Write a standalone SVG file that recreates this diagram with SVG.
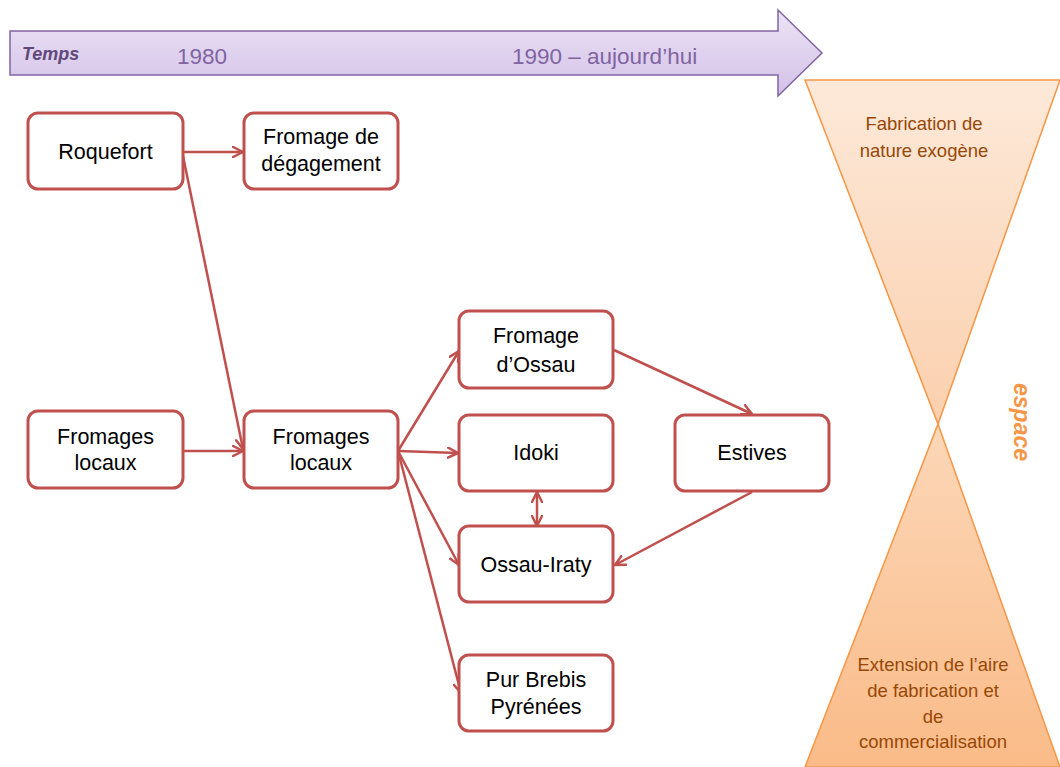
<svg xmlns="http://www.w3.org/2000/svg" width="1060" height="767" viewBox="0 0 1060 767">
<defs>
<linearGradient id="gTime" x1="0" y1="0" x2="0" y2="1">
<stop offset="0" stop-color="#ece3f5"/>
<stop offset="1" stop-color="#d3c1e7"/>
</linearGradient>
<linearGradient id="gTop" x1="0" y1="0" x2="0" y2="1">
<stop offset="0" stop-color="#fde9d9"/>
<stop offset="1" stop-color="#fbd0ae"/>
</linearGradient>
<linearGradient id="gBot" x1="0" y1="0" x2="0" y2="1">
<stop offset="0" stop-color="#fcd7b8"/>
<stop offset="1" stop-color="#fabb88"/>
</linearGradient>
<marker id="ah" viewBox="0 0 12 12" refX="11" refY="6" markerWidth="12" markerHeight="12" markerUnits="userSpaceOnUse" orient="auto-start-reverse">
<path d="M1,1 L11,6 L1,11" fill="none" stroke="#c0504d" stroke-width="2.5" stroke-linecap="round" stroke-linejoin="round"/>
</marker>
</defs>
<style>
.node rect{fill:#fff;stroke:#c0504d;stroke-width:3}
.node text{font-family:"Liberation Sans",Arial,sans-serif;font-size:21.5px;fill:#000;text-anchor:middle}
.conn line{stroke:#c0504d;stroke-width:2.5;marker-end:url(#ah)}
.tl{font-family:"Liberation Sans",Arial,sans-serif;font-size:22.5px;fill:#8064a2}
.hg{font-family:"Liberation Sans",Arial,sans-serif;font-size:18.5px;fill:#984806;text-anchor:middle}
</style>
<rect width="1060" height="767" fill="#fff"/>

<g id="timeline">
<polygon points="10,31 778,31 778,10 822,53 778,96 778,75 10,75" fill="url(#gTime)" stroke="#8064a2" stroke-width="1.5"/>
<text x="22" y="60" class="tl" style="font-size:18px;font-weight:bold;font-style:italic;fill:#5f497a">Temps</text>
<text x="177" y="64" class="tl">1980</text>
<text x="512" y="64" class="tl">1990 – aujourd’hui</text>
</g>

<g id="hourglass">
<polygon points="805,80 1060,80 938,424" fill="url(#gTop)" stroke="#f79646" stroke-width="1.5"/>
<polygon points="938,424 1060,767 805,767" fill="url(#gBot)" stroke="#f79646" stroke-width="1.5"/>
<text x="924" y="130" class="hg">Fabrication de</text>
<text x="924" y="157" class="hg">nature exogène</text>
<text x="933" y="671" class="hg">Extension de l’aire</text>
<text x="933" y="697" class="hg">de fabrication et</text>
<text x="933" y="723" class="hg">de</text>
<text x="933" y="748" class="hg">commercialisation</text>
<text transform="translate(1014,422) rotate(90)" text-anchor="middle" style="font-family:'Liberation Sans',Arial,sans-serif;font-size:23px;font-weight:bold;font-style:italic;fill:#f79646">espace</text>
</g>

<g class="conn" id="connectors">
<line x1="183" y1="152" x2="243" y2="152"/>
<line x1="183" y1="156" x2="243" y2="449"/>
<line x1="183" y1="451" x2="243" y2="451"/>
<line x1="398" y1="451" x2="459" y2="351"/>
<line x1="398" y1="451" x2="458" y2="453"/>
<line x1="398" y1="451" x2="459" y2="565"/>
<line x1="398" y1="451" x2="461" y2="693"/>
<line x1="614" y1="350" x2="752" y2="414"/>
<line x1="752" y1="492" x2="615" y2="565"/>
<line x1="537" y1="492" x2="537" y2="526" style="marker-start:url(#ah)"/>
</g>

<g class="node" id="n-roquefort"><rect x="28" y="113" width="155" height="76" rx="10"/><text x="105.5" y="159">Roquefort</text></g>
<g class="node" id="n-degagement"><rect x="244" y="113" width="154" height="76" rx="10"/><text x="321" y="144">Fromage de</text><text x="321" y="171">dégagement</text></g>
<g class="node" id="n-locaux1"><rect x="28" y="411" width="155" height="77" rx="10"/><text x="105.5" y="444">Fromages</text><text x="105.5" y="470">locaux</text></g>
<g class="node" id="n-locaux2"><rect x="244" y="411" width="154" height="77" rx="10"/><text x="321" y="444">Fromages</text><text x="321" y="470">locaux</text></g>
<g class="node" id="n-ossau"><rect x="459" y="311" width="154" height="77" rx="10"/><text x="536" y="343">Fromage</text><text x="536" y="372">d’Ossau</text></g>
<g class="node" id="n-idoki"><rect x="459" y="415" width="154" height="76" rx="10"/><text x="536" y="460">Idoki</text></g>
<g class="node" id="n-estives"><rect x="675" y="415" width="154" height="76" rx="10"/><text x="752" y="460">Estives</text></g>
<g class="node" id="n-iraty"><rect x="459" y="526" width="154" height="76" rx="10"/><text x="536" y="572">Ossau-Iraty</text></g>
<g class="node" id="n-brebis"><rect x="459" y="655" width="154" height="76" rx="10"/><text x="536" y="687">Pur Brebis</text><text x="536" y="714">Pyrénées</text></g>
</svg>
